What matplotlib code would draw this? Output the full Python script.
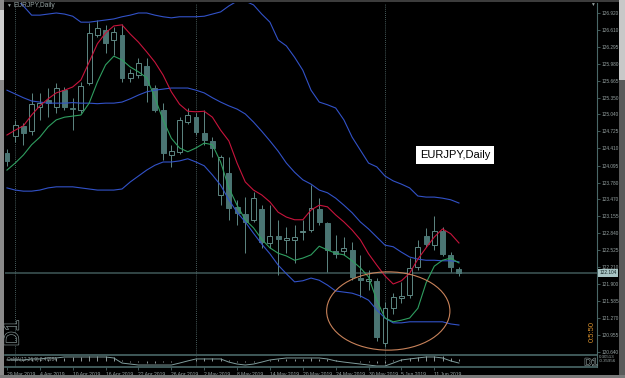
import numpy as np
import matplotlib
matplotlib.use("Agg")
import matplotlib.pyplot as plt
from matplotlib.patches import Ellipse, Rectangle
from matplotlib.transforms import blended_transform_factory
import matplotlib.patheffects as pe

plt.rcParams['font.family'] = ['Liberation Sans', 'DejaVu Sans']

# EURJPY daily bars, 29 Mar 2019 .. 14 Jun 2019
opens = [124.327, 124.642, 124.827, 124.734, 125.179, 125.309, 125.179, 125.494, 125.160, 125.123,
         125.623, 126.513, 126.605, 126.420, 126.513, 125.716, 125.772, 125.938, 125.531, 125.123,
         124.290, 124.345, 124.901, 124.994, 124.697, 124.549, 123.549, 123.956, 123.326, 123.197,
         123.086, 123.289, 122.659, 122.789, 122.715, 122.715, 122.863, 122.900, 123.289, 123.030,
         122.511, 122.511, 122.530, 122.011, 121.956, 121.955, 120.807, 121.457, 121.641, 121.696,
         122.215, 122.789, 122.622, 122.882, 122.437, 122.178]
highs = [124.401, 124.938, 124.882, 125.438, 125.438, 125.531, 125.623, 125.549, 125.346, 125.642,
         126.735, 126.790, 126.698, 126.661, 126.716, 125.883, 126.087, 126.087, 125.586, 125.253,
         124.475, 124.994, 125.160, 125.068, 125.123, 124.623, 124.290, 124.253, 123.456, 123.512,
         123.604, 123.363, 123.363, 123.086, 122.956, 122.993, 123.086, 123.734, 123.493, 123.049,
         122.808, 122.771, 122.678, 122.437, 122.159, 122.011, 121.566, 121.733, 121.937, 122.382,
         122.715, 122.938, 123.160, 122.956, 122.493, 122.215]
lows = [124.086, 124.530, 124.475, 124.660, 124.938, 124.994, 125.068, 125.123, 124.753, 125.068,
        125.586, 126.476, 126.179, 126.142, 125.642, 125.642, 125.716, 125.271, 125.086, 124.197,
        124.068, 124.308, 124.864, 124.660, 124.475, 124.253, 123.363, 123.085, 122.993, 122.474,
        123.049, 122.568, 122.567, 122.067, 122.474, 122.289, 122.715, 122.863, 122.993, 122.122,
        122.382, 122.437, 121.975, 121.659, 121.789, 120.844, 120.733, 121.344, 121.548, 121.641,
        122.159, 122.585, 122.530, 122.419, 122.122, 122.048]
closes = [124.178, 124.845, 124.697, 125.234, 125.253, 125.253, 125.531, 125.179, 125.142, 125.568,
          126.550, 126.642, 126.364, 126.568, 125.716, 125.809, 125.994, 125.586, 125.123, 124.327,
          124.364, 124.938, 125.031, 124.716, 124.568, 124.420, 124.253, 123.308, 123.215, 123.049,
          123.493, 122.678, 122.789, 122.734, 122.752, 122.771, 122.882, 123.308, 123.049, 122.530,
          122.456, 122.567, 122.030, 121.974, 121.993, 120.918, 121.457, 121.660, 121.678, 122.196,
          122.585, 122.641, 122.882, 122.456, 122.215, 122.104]

ma_red = [124.66, 124.75, 124.83, 125.03, 125.20, 125.33, 125.44, 125.49, 125.55, 125.68,
          126.01, 126.35, 126.55, 126.68, 126.70, 126.53, 126.38, 126.20, 126.01, 125.77,
          125.46, 125.23, 125.10, 125.09, 125.10, 124.99, 124.75, 124.55, 124.14, 123.79,
          123.64, 123.55, 123.42, 123.23, 123.14, 123.09, 123.09, 123.27, 123.36, 123.33,
          123.18, 123.05, 122.90, 122.72, 122.46, 122.25, 122.05, 121.90, 121.96, 122.10,
          122.36, 122.57, 122.77, 122.92, 122.83, 122.66]
ma_green = [124.01, 124.14, 124.29, 124.48, 124.62, 124.81, 124.94, 124.99, 125.01, 125.03,
            125.25, 125.64, 125.96, 126.12, 126.05, 125.92, 125.83, 125.72, 125.35, 124.94,
            124.60, 124.42, 124.35, 124.42, 124.51, 124.48, 124.16, 123.68, 123.36, 123.09,
            122.94, 122.73, 122.57, 122.47, 122.42, 122.34, 122.38, 122.44, 122.60, 122.53,
            122.47, 122.44, 122.33, 122.20, 122.03, 121.60, 121.27, 121.20, 121.23, 121.27,
            121.45, 121.92, 122.23, 122.34, 122.38, 122.29]
bb_upper = [127.27, 127.20, 127.05, 126.88, 126.88, 126.90, 126.92, 126.90, 126.86, 126.75,
            126.75, 126.77, 126.79, 126.81, 126.85, 126.88, 126.92, 126.92, 126.88, 126.85,
            126.83, 126.85, 126.85, 126.85, 126.86, 126.90, 126.94, 127.05, 127.14, 127.14,
            127.07, 126.90, 126.75, 126.42, 126.31, 126.10, 125.86, 125.49, 125.27, 125.22,
            125.16, 124.94, 124.62, 124.38, 124.14, 124.07, 123.90, 123.81, 123.75, 123.68,
            123.53, 123.51, 123.51, 123.49, 123.46, 123.40]
bb_mid = [125.49, 125.42, 125.35, 125.29, 125.27, 125.25, 125.25, 125.25, 125.26, 125.25,
          125.25, 125.24, 125.25, 125.25, 125.27, 125.33, 125.40, 125.46, 125.49, 125.51,
          125.53, 125.53, 125.53, 125.49, 125.44, 125.35, 125.27, 125.20, 125.14, 125.05,
          124.90, 124.73, 124.55, 124.36, 124.14, 123.97, 123.83, 123.75, 123.64, 123.59,
          123.49, 123.36, 123.22, 123.05, 122.92, 122.77, 122.62, 122.59, 122.49, 122.40,
          122.36, 122.34, 122.34, 122.33, 122.33, 122.31]
bb_lower = [123.68, 123.64, 123.62, 123.62, 123.64, 123.68, 123.70, 123.70, 123.70, 123.68,
            123.66, 123.64, 123.64, 123.64, 123.66, 123.79, 123.90, 124.01, 124.10, 124.16,
            124.16, 124.18, 124.22, 124.16, 124.09, 123.92, 123.73, 123.46, 123.23, 123.05,
            122.84, 122.64, 122.46, 122.25, 122.09, 121.94, 121.96, 122.01, 121.97, 121.88,
            121.77, 121.75, 121.73, 121.68, 121.60, 121.42, 121.27, 121.18, 121.18, 121.20,
            121.20, 121.20, 121.20, 121.20, 121.16, 121.14]

osma_line = [0.07, 0.07, 0.07, 0.13, 0.13, 0.19, 0.19, 0.25, 0.25, 0.25,
             0.25, 0.25, 0.25, 0.19, -0.12, -0.18, -0.24, -0.24, -0.24, -0.24,
             -0.24, -0.12, 0.01, 0.13, 0.13, 0.13, 0.13, -0.06, -0.18, -0.24,
             -0.18, -0.06, 0.07, 0.13, 0.19, 0.19, 0.19, 0.19, 0.19, 0.13,
             0.01, -0.06, -0.12, -0.18, -0.24, -0.30, -0.30, -0.12, 0.07, 0.13,
             0.19, 0.25, 0.25, 0.19, 0.01, -0.12]
osma_hist = [0.02, 0.05, 0.08, 0.10, 0.10, 0.12, 0.18, 0.20, 0.22, 0.24,
             0.28, 0.30, 0.28, 0.25, 0.05, -0.05, -0.08, -0.10, -0.10, -0.08,
             -0.05, -0.02, 0.02, 0.15, 0.18, 0.20, 0.18, 0.05, -0.05, -0.08,
             -0.05, 0.03, 0.08, 0.10, 0.12, 0.15, 0.15, 0.18, 0.15, 0.10,
             0.05, 0.02, -0.02, -0.05, -0.08, -0.10, -0.10, 0.05, 0.10, 0.20,
             0.25, 0.30, 0.30, 0.28, 0.20, 0.10]

date_labels = ['29 Mar 2019', '4 Apr 2019', '10 Apr 2019', '16 Apr 2019', '22 Apr 2019',
               '26 Apr 2019', '2 May 2019', '8 May 2019', '14 May 2019', '20 May 2019',
               '24 May 2019', '30 May 2019', '5 Jun 2019', '11 Jun 2019']
price_labels = ['126.920', '126.610', '126.295', '125.980', '125.665', '125.350', '125.040',
                '124.725', '124.410', '124.095', '123.780', '123.470', '123.155', '122.840',
                '122.525', '122.210', '121.900', '121.585', '121.270', '120.955', '120.640']
month_starts = [1, 23, 46]   # 1 Apr, 1 May, 3 Jun

W, H = 625, 378
def fx(px):
    return px / W
def fy(py):
    return 1 - py / H

axis_col = '#4a6868'
text_col = '#98a4a4'
fill_col = '#4b7573'
edge_col = '#5d8783'

fig = plt.figure(figsize=(6.25, 3.78), dpi=100, facecolor='black')
ax = fig.add_axes([fx(5), fy(355), fx(597) - fx(5), fy(3) - fy(355)])
ax2 = fig.add_axes([fx(5), fy(367), fx(597) - fx(5), fy(356) - fy(367)])
for a in (ax, ax2):
    a.set_facecolor('black')
    a.set_xlim(-0.24, 71.8)
    a.spines['top'].set_visible(False)
    a.spines['left'].set_visible(False)
    a.spines['right'].set_color(axis_col)
    a.spines['bottom'].set_color(axis_col)
    a.spines['bottom'].set_linewidth(1.2)

x = np.arange(len(closes))
o = np.array(opens)
c = np.array(closes)
up = c >= o

# candles
ax.vlines(x, lows, highs, color=edge_col, lw=0.7, zorder=2)
ax.bar(x[up], (c - o)[up], bottom=o[up], width=0.6, facecolor='black',
       edgecolor=edge_col, lw=0.7, zorder=3)
ax.bar(x[~up], (o - c)[~up], bottom=c[~up], width=0.6, facecolor=fill_col,
       edgecolor=fill_col, lw=0.7, zorder=3)

# indicators
for band in (bb_upper, bb_mid, bb_lower):
    ax.plot(x, band, color='#3252c8', lw=0.8, zorder=4)
ax.plot(x, ma_red, color='#c8143c', lw=0.8, zorder=4)
ax.plot(x, ma_green, color='#2f9e60', lw=0.8, zorder=4)

ax.set_ylim(120.585, 127.105)
ax.yaxis.tick_right()
ax.set_yticks([float(s) for s in price_labels])
ax.set_yticklabels(price_labels)
ax.tick_params(axis='y', length=2, width=0.6, color=axis_col, labelsize=3.4,
               labelcolor=text_col, pad=1)
ax.tick_params(axis='x', bottom=False, labelbottom=False)

# bid line and price label
ax.axhline(closes[-1], color='#3f5858', lw=1.1, zorder=1)
tr = blended_transform_factory(ax.transAxes, ax.transData)
ax.text(1.004, closes[-1], f'{closes[-1]:.3f}', transform=tr, ha='left', va='center',
        fontsize=3.4, color='#102020', clip_on=False,
        bbox=dict(boxstyle='square,pad=0.25', fc='#a8c4c4', ec='none'))

for m in month_starts:
    ax.axvline(m, color='#5f7a7a', lw=0.6, ls=(0, (1, 1.5)), zorder=1)
    ax2.axvline(m, color='#5f7a7a', lw=0.6, ls=(0, (1, 1.5)), zorder=1)

ax.add_patch(Ellipse((46.4, 121.40), width=15.0, height=1.45, fill=False,
                     edgecolor='#c8825a', lw=0.8, zorder=5))
ax.text(54.5, 124.29, 'EURJPY,Daily', ha='center', va='center', fontsize=8,
        color='black', zorder=6,
        bbox=dict(boxstyle='square,pad=0.35', fc='white', ec='none'))

# OsMA sub-window
ax2.vlines(x, 0, osma_hist, color='#a8b4b4', lw=0.6)
ax2.plot(x, osma_line, color='#7f9c9c', lw=0.7)
ax2.set_ylim(-0.36, 0.31)
ax2.set_yticks([])
ax2.set_xticks(x[::4])
ax2.set_xticklabels(date_labels, ha='left')
ax2.tick_params(axis='x', length=2, width=0.6, color=axis_col, labelsize=3.6,
                labelcolor=text_col, pad=1.5)

# texts around the chart
fig.text(fx(8), fy(5.5), '\u25bc', fontsize=3.5, color=text_col, ha='center', va='center')
fig.text(fx(14), fy(5.5), 'EURJPY,Daily', fontsize=4.8, color=text_col, va='center')
fig.text(fx(592), fy(4), '\u25bc', fontsize=3.5, color=text_col, ha='center', va='center')
fig.text(fx(7), fy(359), 'OsMA(12,26,9) 0.47984', fontsize=3.3, color=text_col, va='center')
fig.text(fx(599), fy(356.5), '0.30513', fontsize=3.2, color=text_col, va='center')
fig.text(fx(599), fy(360.5), '-0.35956', fontsize=3.2, color=text_col, va='center')
fig.text(fx(13), fy(333), 'D1', rotation=90, fontsize=15, color='black', ha='center',
         va='center', path_effects=[pe.withStroke(linewidth=0.9, foreground='#8a9a9a')])
fig.text(fx(591), fy(362.5), 'D1', fontsize=7.5, color='black', ha='center', va='center',
         path_effects=[pe.withStroke(linewidth=0.8, foreground='#8a9a9a')])
fig.text(fx(592), fy(331), '0:5:50', rotation=90, fontsize=5.5, color='#d8902c',
         ha='center', va='center')

# window frame
frame = [((0, 0), 625, 2, '#3c3c3c'),
         ((0, 0), 4, 378, '#8a8a8a'),
         ((0, 10), 4, 70, '#d0d0d0'),
         ((619, 0), 6, 378, '#5a5a5a'),
         ((619, 0), 6, 80, '#c8c8c8'),
         ((0, 375), 625, 3, '#7a7a7a')]
for (px, py), w, h, col in frame:
    fig.add_artist(Rectangle((fx(px), fy(py + h)), w / W, h / H, transform=fig.transFigure,
                             facecolor=col, edgecolor='none', zorder=10))

fig.savefig('out.png', dpi=100, facecolor=fig.get_facecolor())
